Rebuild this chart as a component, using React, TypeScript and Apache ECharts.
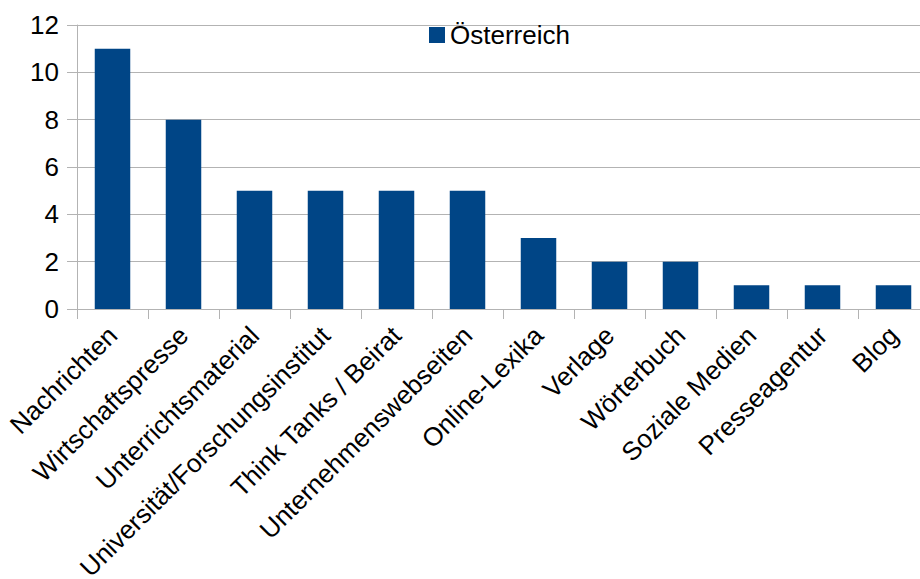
import React, { useEffect, useRef } from "react";
import * as echarts from "echarts";

const categories = [
  "Nachrichten",
  "Wirtschaftspresse",
  "Unterrichtsmaterial",
  "Universität/Forschungsinstitut",
  "Think Tanks / Beirat",
  "Unternehmenswebseiten",
  "Online-Lexika",
  "Verlage",
  "Wörterbuch",
  "Soziale Medien",
  "Presseagentur",
  "Blog",
];
const seriesName = "Österreich";
const values = [11, 8, 5, 5, 5, 5, 3, 2, 2, 1, 1, 1];

export default function App() {
  const ref = useRef<HTMLDivElement>(null);
  useEffect(() => {
    document.body.style.margin = "0";
    const chart = echarts.init(ref.current!, null, { renderer: "svg" });
    const font = "'Liberation Sans', Arial, sans-serif";
    chart.setOption({
      animation: false,
      textStyle: { fontFamily: font },
      legend: {
        data: [seriesName],
        left: 424,
        top: 17,
        itemWidth: 16,
        itemHeight: 16,
        itemGap: 8,
        icon: "rect",
        textStyle: { fontSize: 26, color: "#000", fontFamily: font },
      },
      grid: {
        left: 77,
        top: 25,
        width: 852,
        height: 284,
        containLabel: false,
        outerBoundsMode: "none",
      },
      xAxis: {
        type: "category",
        data: categories,
        axisLine: { show: true, lineStyle: { color: "#b3b3b3", width: 1 } },
        axisTick: { show: true, length: 10, lineStyle: { color: "#b3b3b3" } },
        axisLabel: {
          rotate: 45,
          interval: 0,
          fontSize: 26,
          color: "#000",
          margin: 22,
          fontFamily: font,
        },
      },
      yAxis: {
        type: "value",
        min: 0,
        max: 12,
        interval: 2,
        axisLine: { show: true, lineStyle: { color: "#b3b3b3", width: 1 } },
        axisTick: { show: true, length: 10, lineStyle: { color: "#b3b3b3" } },
        splitLine: { show: true, lineStyle: { color: "#b3b3b3", width: 1 } },
        axisLabel: { fontSize: 26, color: "#000", margin: 18, fontFamily: font },
      },
      series: [
        {
          name: seriesName,
          type: "bar",
          data: values,
          barWidth: "50%",
          itemStyle: { color: "#004586" },
        },
      ],
    });
    return () => chart.dispose();
  }, []);
  return <div ref={ref} style={{ width: 920, height: 579 }} />;
}
